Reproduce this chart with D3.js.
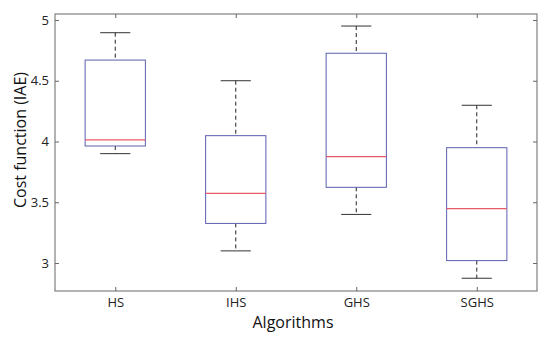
<!DOCTYPE html>
<html><head><meta charset="utf-8">
<script src="https://cdn.jsdelivr.net/npm/d3@7/dist/d3.min.js"></script>
<style>body{margin:0;background:#fff}svg{display:block}text{font-family:"Open Sans",sans-serif}</style>
</head><body><svg id="c" width="550" height="339"></svg>
<script>
const categories = ["HS", "IHS", "GHS", "SGHS"];
const lowerWhisker = [3.90, 3.10, 3.40, 2.875];
const q1 = [3.963, 3.326, 3.623, 3.02];
const median = [4.014, 3.574, 3.875, 3.447];
const q3 = [4.67, 4.048, 4.726, 3.949];
const upperWhisker = [4.895, 4.50, 4.95, 4.298];
const yTicks = [3, 3.5, 4, 4.5, 5];
const yTickLabels = ["3", "3.5", "4", "4.5", "5"];

const svg = d3.select("#c");
const L = 55, R = 537, T = 14, B = 291;
const x = d3.scalePoint().domain(categories).range([L, R]).padding(0.5);
const y = d3.scaleLinear().domain([2.77, 5.049]).range([B, T]);
const band = x.step();
const boxW = band * 0.5, capW = band * 0.25;
const axisCol = "#666";

categories.forEach((c, i) => {
  const cx = x(c);
  const g = svg.append("g");
  g.append("line").attr("x1", cx).attr("x2", cx).attr("y1", y(upperWhisker[i])).attr("y2", y(q3[i]))
    .attr("stroke", "#222").attr("stroke-width", 1).attr("stroke-dasharray", "4,3");
  g.append("line").attr("x1", cx).attr("x2", cx).attr("y1", y(q1[i])).attr("y2", y(lowerWhisker[i]))
    .attr("stroke", "#222").attr("stroke-width", 1).attr("stroke-dasharray", "4,3");
  [upperWhisker[i], lowerWhisker[i]].forEach(v => {
    g.append("line").attr("x1", cx - capW / 2).attr("x2", cx + capW / 2).attr("y1", y(v)).attr("y2", y(v))
      .attr("stroke", "#333").attr("stroke-width", 1);
  });
  g.append("rect").attr("x", cx - boxW / 2).attr("width", boxW)
    .attr("y", y(q3[i])).attr("height", y(q1[i]) - y(q3[i]))
    .attr("fill", "none").attr("stroke", "#5a5fae").attr("stroke-width", 1);
  g.append("line").attr("x1", cx - boxW / 2).attr("x2", cx + boxW / 2).attr("y1", y(median[i])).attr("y2", y(median[i]))
    .attr("stroke", "#e85a66").attr("stroke-width", 1.2);
});

svg.append("rect").attr("x", L).attr("y", T).attr("width", R - L).attr("height", B - T)
  .attr("fill", "none").attr("stroke", axisCol).attr("stroke-width", 1);

const yAxisL = d3.axisLeft(y).tickValues(yTicks).tickFormat((d, i) => yTickLabels[i]).tickSizeInner(-4).tickSizeOuter(0).tickPadding(6);
const gy = svg.append("g").attr("transform", `translate(${L},0)`).call(yAxisL);
const yAxisR = d3.axisRight(y).tickValues(yTicks).tickFormat("").tickSizeInner(-4).tickSizeOuter(0);
const gyr = svg.append("g").attr("transform", `translate(${R},0)`).call(yAxisR);
const xAxisB = d3.axisBottom(x).tickSizeInner(-4).tickSizeOuter(0).tickPadding(7);
const gx = svg.append("g").attr("transform", `translate(0,${B})`).call(xAxisB);
const xAxisT = d3.axisTop(x).tickFormat("").tickSizeInner(-4).tickSizeOuter(0);
const gxt = svg.append("g").attr("transform", `translate(0,${T})`).call(xAxisT);
[gy, gyr, gx, gxt].forEach(g => {
  g.select(".domain").remove();
  g.selectAll(".tick line").attr("stroke", axisCol);
  g.selectAll(".tick text").attr("fill", "#222").style("font-size", "13px").style("font-family", "'Open Sans',sans-serif");
});

svg.append("text").attr("x", 293).attr("y", 328).attr("text-anchor", "middle")
  .style("font-size", "16px").attr("fill", "#111").text("Algorithms");
svg.append("text").attr("transform", `translate(26,140) rotate(-90)`).attr("text-anchor", "middle")
  .style("font-size", "16px").attr("fill", "#111").text("Cost function (IAE)");
</script></body></html>
